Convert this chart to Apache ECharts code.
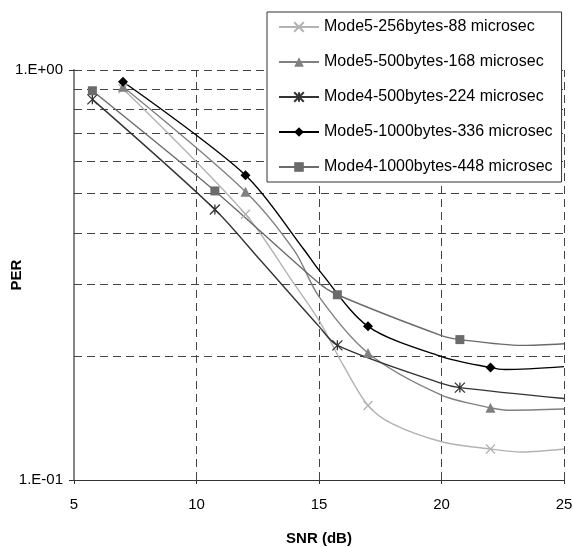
<!DOCTYPE html>
<html>
<head>
<meta charset="UTF-8">
<title>PER vs SNR</title>
<script src="https://cdn.jsdelivr.net/npm/echarts@6/dist/echarts.min.js"></script>
<style>
    html, body { margin: 0; padding: 0; background: #fff; }
    #chart { width: 573px; height: 547px; }
</style>
</head>
<body>
<div id="chart"></div>
<script>
// legend order
var names = [
    'Mode5-256bytes-88 microsec',
    'Mode5-500bytes-168 microsec',
    'Mode4-500bytes-224 microsec',
    'Mode5-1000bytes-336 microsec',
    'Mode4-1000bytes-448 microsec'
];

// points where the markers sit
var markMode5 = [7, 12, 17, 22];
var markMode4 = [5.75, 10.75, 15.75, 20.75];

// curves (SNR dB / PER)
var snr256 = [7, 12, 14, 15, 16, 17, 18, 20, 22, 23.3, 25];
var per256 = [0.90, 0.445, 0.30, 0.245, 0.19, 0.152, 0.137, 0.124, 0.119, 0.117, 0.119];

var snr500a = [7, 12, 14, 15, 17, 20, 22, 22.7, 25];
var per500a = [0.91, 0.505, 0.362, 0.28, 0.204, 0.161, 0.150, 0.148, 0.149];

var snr500b = [5.75, 10.75, 12.6, 15, 15.75, 20, 20.75, 25];
var per500b = [0.848, 0.457, 0.344, 0.237, 0.213, 0.172, 0.168, 0.158];

var snr1000a = [7, 12, 14.4, 15, 17, 20, 22, 22.6, 25];
var per1000a = [0.936, 0.554, 0.364, 0.325, 0.237, 0.200, 0.188, 0.186, 0.189];

var snr1000b = [5.75, 10.75, 15, 15.75, 20, 20.75, 23.3, 25];
var per1000b = [0.89, 0.507, 0.302, 0.283, 0.225, 0.220, 0.213, 0.215];

// dashed grid
var gridX = [10, 15, 20, 25];
var gridY = [0.2, 0.3, 0.4, 0.5, 0.6, 0.7, 0.8, 0.9, 1];

var FONT = 'Liberation Sans, Arial, sans-serif';

function build(xs, ys, marks) {
    return xs.map(function (x, i) {
        var item = { value: [x, ys[i]] };
        if (marks.indexOf(x) < 0) item.symbol = 'none';
        return item;
    });
}

function curve(name, xs, ys, marks, color, symbol, size, stroke) {
    return {
        name: name,
        type: 'line',
        z: 3,
        smooth: 0.3,
        data: build(xs, ys, marks),
        symbol: symbol,
        symbolSize: size,
        color: color,
        lineStyle: { color: color, width: 1.4 },
        itemStyle: stroke
            ? { color: color, borderColor: color, borderWidth: 1.3 }
            : { color: color },
        emphasis: { disabled: true }
    };
}

var crossPath = 'path://M0 0L10 10M10 0L0 10';
var starPath = 'path://M0 0L10 10M10 0L0 10M5 0L5 10';

var myChart = echarts.init(document.getElementById('chart'));

var option = {
    animation: false,
    backgroundColor: '#fff',
    grid: { left: 74, right: 9, top: 70, bottom: 67, containLabel: false, outerBoundsMode: 'none' },
    legend: {
        data: names,
        z: 10,
        orient: 'vertical',
        left: 267,
        top: 12,
        padding: [7, 9, 7, 11],
        itemWidth: 40,
        itemHeight: 12,
        itemGap: 19,
        backgroundColor: '#fff',
        borderColor: '#333',
        borderWidth: 1,
        borderRadius: 0,
        textStyle: { fontFamily: FONT, fontSize: 16, color: '#000' }
    },
    xAxis: {
        type: 'value',
        min: 5,
        max: 25,
        interval: 5,
        name: 'SNR (dB)',
        nameLocation: 'middle',
        nameGap: 51,
        nameMoveOverlap: false,
        nameTextStyle: { fontFamily: FONT, fontSize: 15, fontWeight: 'bold', color: '#000' },
        axisLine: { lineStyle: { color: '#333', width: 1 } },
        axisTick: { show: true, length: 4, lineStyle: { color: '#333' } },
        axisLabel: { fontFamily: FONT, fontSize: 15, color: '#000', margin: 17 },
        splitLine: { show: false }
    },
    yAxis: {
        type: 'log',
        logBase: 10,
        min: 0.1,
        max: 1,
        name: 'PER',
        nameLocation: 'middle',
        nameGap: 50,
        nameRotate: 90,
        nameMoveOverlap: false,
        nameTextStyle: { fontFamily: FONT, fontSize: 15, fontWeight: 'bold', color: '#000' },
        axisLine: { show: true, lineStyle: { color: '#858585', width: 2 } },
        axisTick: { show: true, length: 5, lineStyle: { color: '#333' } },
        axisLabel: {
            fontFamily: FONT, fontSize: 15, color: '#000', margin: 11,
            formatter: function (v) {
                var e = Math.round(Math.log(v) / Math.LN10);
                return '1.E' + (e < 0 ? '-' : '+') + String(Math.abs(e)).padStart(2, '0');
            }
        },
        splitLine: { show: false }
    },
    series: [
        {
            type: 'line',
            data: [],
            z: 1,
            silent: true,
            markLine: {
                z: 1,
                silent: true,
                animation: false,
                symbol: ['none', 'none'],
                label: { show: false },
                lineStyle: { type: [8, 5], color: '#444', width: 1 },
                emphasis: { disabled: true },
                data: gridX.map(function (v) { return { xAxis: v }; })
                    .concat(gridY.map(function (v) { return { yAxis: v }; }))
            }
        },
        curve(names[0], snr256, per256, markMode5, '#b3b3b3', crossPath, 9, true),
        curve(names[1], snr500a, per500a, markMode5, '#808080', 'triangle', 10, false),
        curve(names[2], snr500b, per500b, markMode4, '#333333', starPath, 10, true),
        curve(names[3], snr1000a, per1000a, markMode5, '#000000', 'diamond', 10, false),
        curve(names[4], snr1000b, per1000b, markMode4, '#6b6b6b', 'rect', 9, false)
    ]
};

myChart.setOption(option);
</script>
</body>
</html>
